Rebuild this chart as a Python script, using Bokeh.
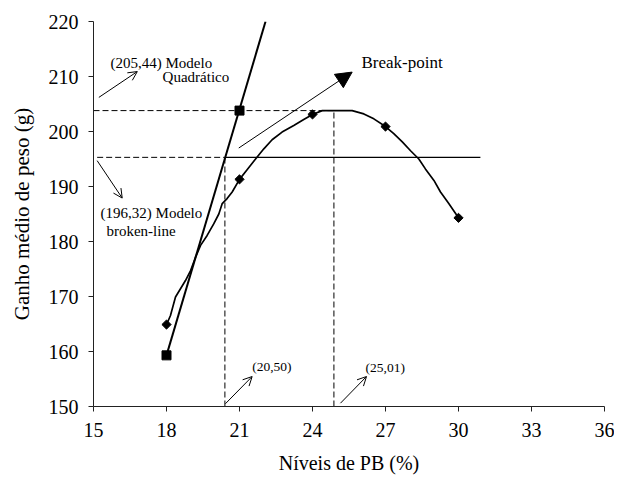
from bokeh.plotting import figure
from bokeh.models import Arrow, OpenHead, NormalHead, Label, FixedTicker, Range1d
from bokeh.embed import file_html
from bokeh.resources import INLINE
import numpy as np

# Observed means (diamonds)
obs_x = [18, 21, 24, 27, 30]
obs_y = [164.9, 191.3, 203.1, 200.9, 184.3]

curve_x = [18.0, 18.16, 18.37, 18.78, 18.99, 19.19, 19.40, 19.67, 19.94, 20.15, 20.29, 20.49,
           20.70, 21.0, 21.32, 21.66, 22.0, 22.34, 22.75, 23.23, 23.64, 24.0, 24.40, 25.63,
           26.11, 26.52, 27.0, 27.34, 27.69, 28.03, 28.37, 28.64, 28.99, 29.26, 29.60, 30.0]
curve_y = [164.9, 166.5, 169.9, 172.9, 174.7, 177.1, 179.3, 181.1, 183.2, 185.0, 186.9, 187.8,
           189.0, 191.3, 193.1, 195.0, 196.85, 198.5, 199.9, 201.1, 202.2, 203.1, 203.8, 203.8,
           203.2, 202.3, 200.9, 199.6, 198.1, 196.5, 195.0, 193.2, 191.1, 189.0, 186.9, 184.3]

# Broken-line model points (squares) and segments
sq_x = [18, 21]
sq_y = [159.3, 203.8]
rise_x = [18.0, 22.07]
rise_y = [159.3, 220.0]
plateau_x = [20.4, 30.9]
plateau_y = [195.3, 195.3]

# Reference levels
bp_x = 20.4      # break-point level
bp_y = 195.3
qmax_x = 24.88   # quadratic maximum level
qmax_y = 203.8

x_ticks = [15, 18, 21, 24, 27, 30, 33, 36]
y_ticks = [150, 160, 170, 180, 190, 200, 210, 220]

FONT = "Liberation Serif"

p = figure(width=614, height=480, output_backend="svg", toolbar_location=None,
           x_range=Range1d(15, 36), y_range=Range1d(150, 220),
           min_border_left=93, min_border_right=10, min_border_top=21, min_border_bottom=74)
p.outline_line_color = None
p.xgrid.visible = False
p.ygrid.visible = False
p.background_fill_color = "white"

for ax in (p.xaxis, p.yaxis):
    ax.minor_tick_line_color = None
    ax.major_tick_in = 0
    ax.major_tick_out = 5
    ax.axis_line_color = "#222222"
    ax.major_tick_line_color = "#222222"
    ax.major_label_text_font = FONT
    ax.major_label_text_font_size = "20px"
    ax.major_label_text_color = "black"
    ax.axis_label_text_font = FONT
    ax.axis_label_text_font_style = "normal"
    ax.axis_label_text_color = "black"

p.xaxis.axis_label_text_font_size = "20px"
p.yaxis.axis_label_text_font_size = "21px"
p.xaxis.ticker = FixedTicker(ticks=x_ticks)
p.yaxis.ticker = FixedTicker(ticks=y_ticks)
p.xaxis.axis_label = "Níveis de PB (%)"
p.yaxis.axis_label = "Ganho médio de peso (g)"
p.xaxis.major_label_standoff = 11
p.yaxis.major_label_standoff = 10
p.xaxis.axis_label_standoff = 12
p.yaxis.axis_label_standoff = 12

# dashed reference lines
p.line([15, qmax_x], [qmax_y, qmax_y], line_color="black", line_width=1, line_dash="6 3")
p.line([15.15, bp_x], [bp_y, bp_y], line_color="black", line_width=1, line_dash="6 3")
p.line([bp_x, bp_x], [150, bp_y], line_color="black", line_width=1, line_dash="6 3")
p.line([qmax_x, qmax_x], [150, qmax_y], line_color="black", line_width=1, line_dash="6 3")

# broken-line model
p.line(rise_x, rise_y, line_color="black", line_width=2)
p.line(plateau_x, plateau_y, line_color="black", line_width=1.4)
p.scatter(sq_x, sq_y, marker="square", size=9, color="black")

# quadratic curve
p.line(curve_x, curve_y, line_color="black", line_width=1.7)
p.scatter(obs_x, obs_y, marker="square", angle=np.pi / 4, size=6.5, color="black")

# arrows
def open_arrow(x0, y0, x1, y1):
    p.add_layout(Arrow(end=OpenHead(size=9, line_width=1, line_color="black"),
                       x_start=x0, y_start=y0, x_end=x1, y_end=y1,
                       line_width=1, line_color="black"))

open_arrow(15.22, 206.2, 16.80, 210.9)
open_arrow(15.15, 194.7, 16.18, 187.9)
open_arrow(20.42, 150.5, 21.52, 155.45)
open_arrow(25.15, 150.6, 26.22, 155.45)
p.add_layout(Arrow(end=NormalHead(size=16, fill_color="black", line_color="black"),
                   x_start=20.97, y_start=197.0, x_end=25.63, y_end=210.8,
                   line_width=1, line_color="black"))

def lab(x, y, t, size):
    p.add_layout(Label(x=x, y=y, text=t, text_font=FONT, text_font_size=size,
                       text_baseline="middle", text_align="left", text_color="black"))

lab(15.70, 212.5, "(205,44) Modelo", "15px")
lab(17.84, 210.0, "Quadrático", "15px")
lab(15.29, 185.2, "(196,32) Modelo", "15px")
lab(15.53, 182.0, "broken-line", "15px")
lab(26.01, 212.5, "Break-point", "17px")
lab(21.52, 157.3, "(20,50)", "13.5px")
lab(26.18, 157.1, "(25,01)", "13.5px")

open("out.html", "w").write(file_html(p, INLINE))
